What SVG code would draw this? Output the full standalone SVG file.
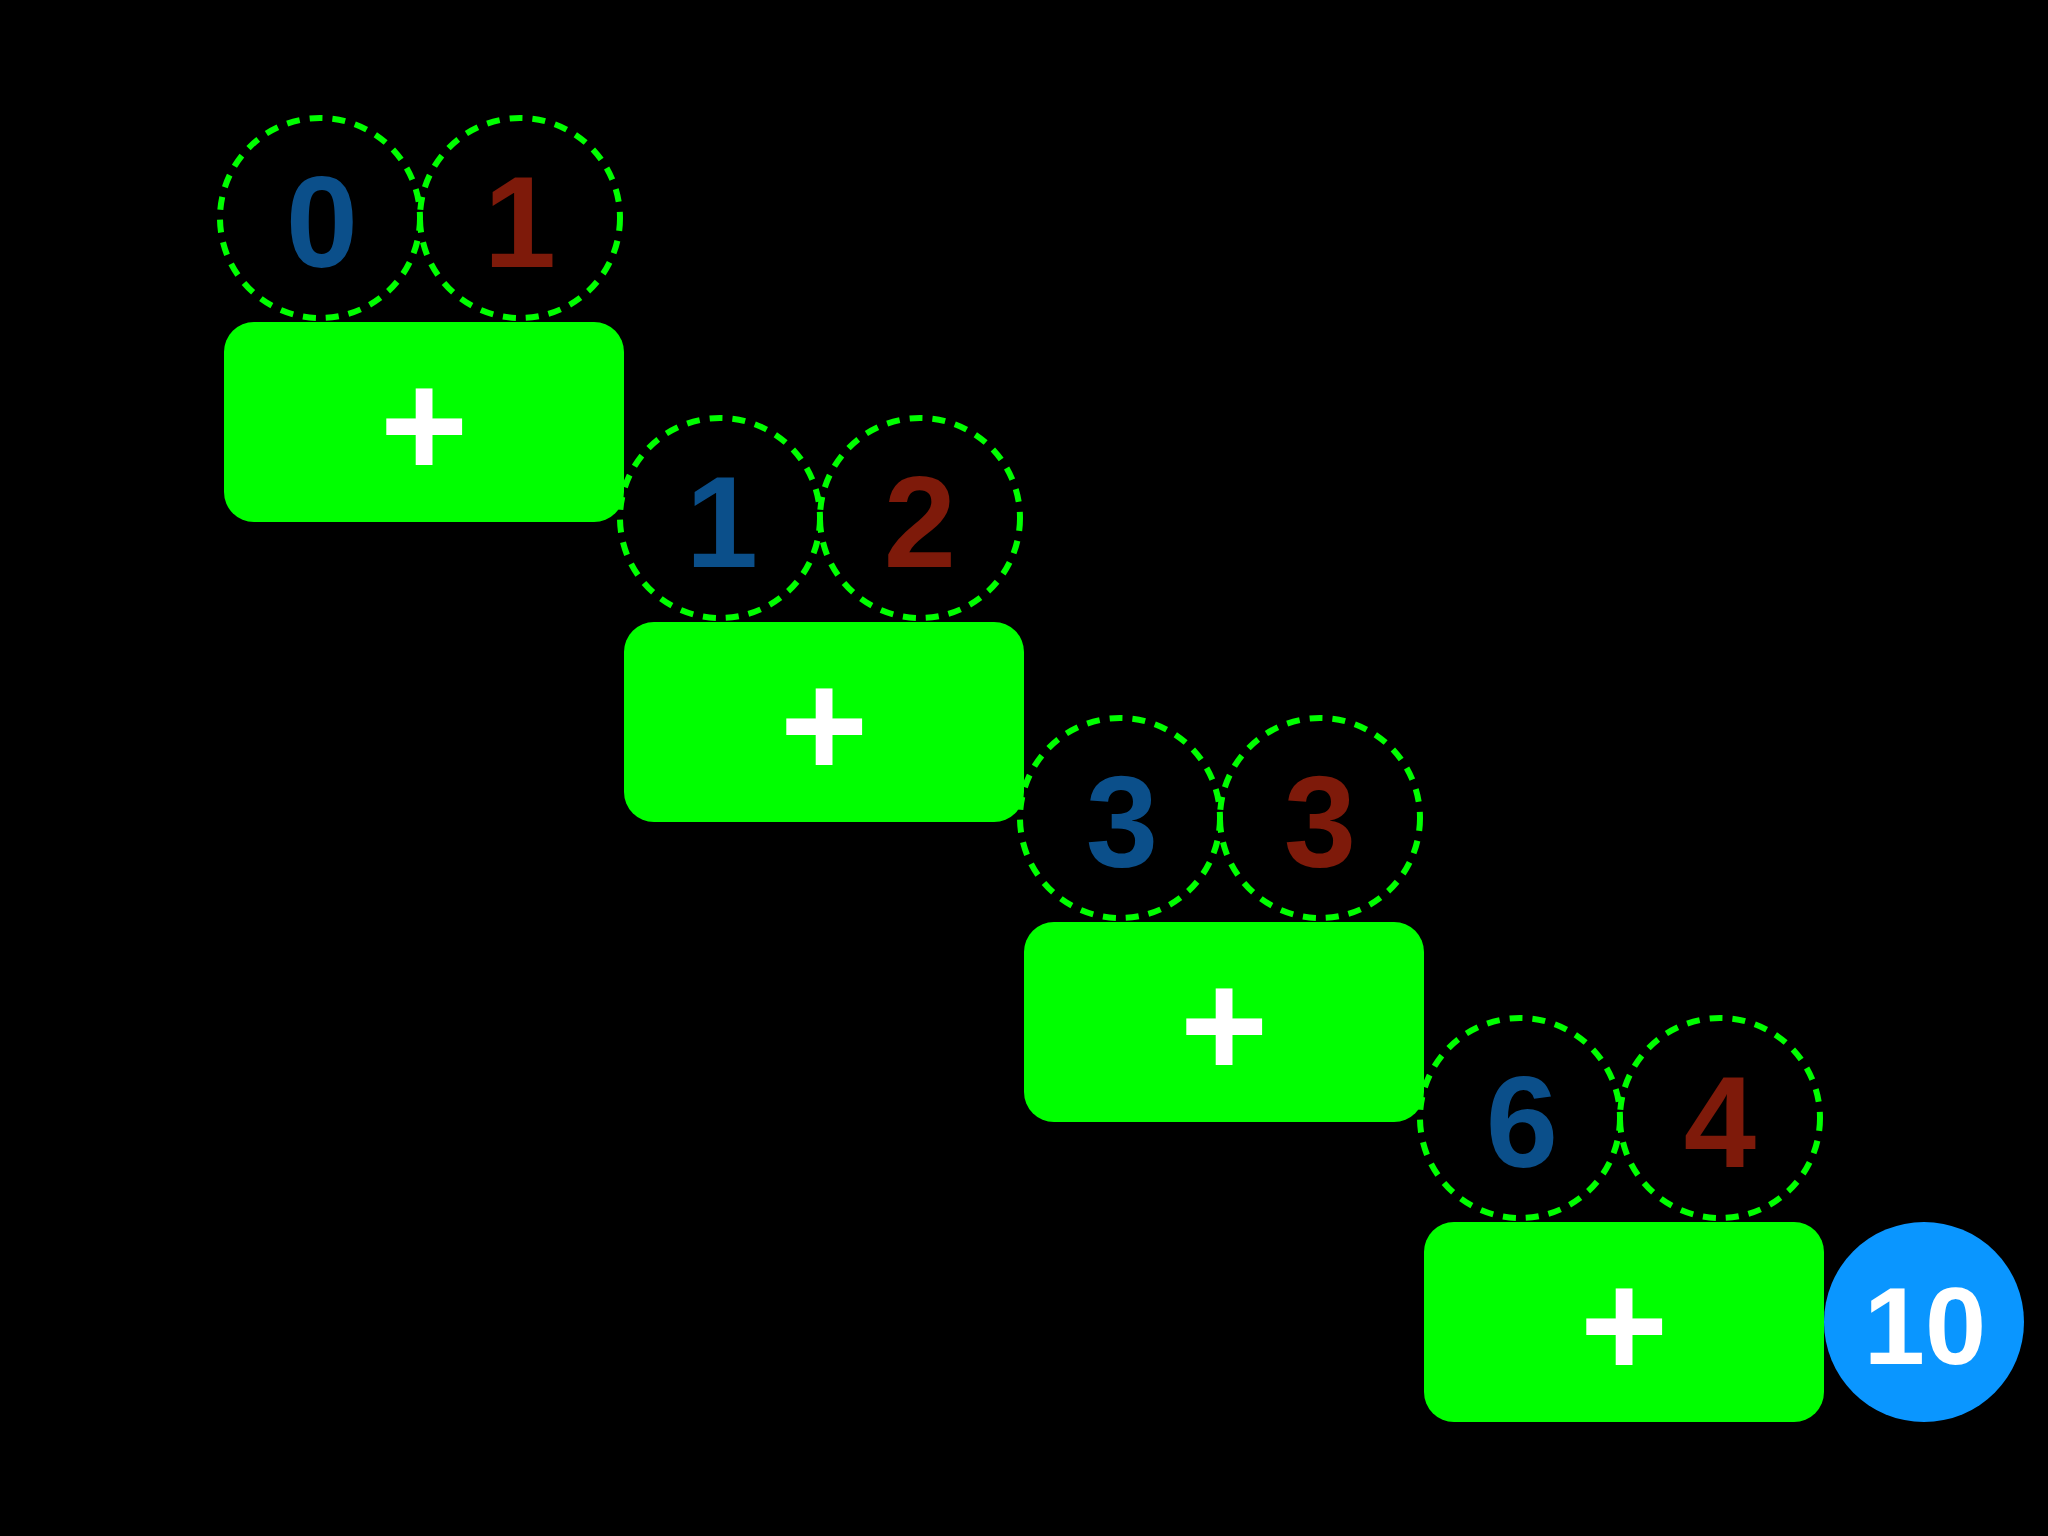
<svg xmlns="http://www.w3.org/2000/svg" width="2048" height="1536" viewBox="0 0 2048 1536">
<style>
.bg{fill:#000000}
.box{fill:#00FF00}
.slot{fill:none;stroke:#00FF00;stroke-width:6;stroke-dasharray:13 10}
.plus{font-family:"Liberation Sans",Arial,sans-serif;font-weight:bold;font-size:151px;fill:#FFFFFF;text-anchor:middle}
.dig{font-family:"Liberation Sans",Arial,sans-serif;font-weight:bold;font-size:130px;text-anchor:middle}
.a{fill:#0B4F8A}
.b{fill:#7E1A0A}
.res{fill:#0A96FF}
.restxt{font-family:"Liberation Sans",Arial,sans-serif;font-weight:bold;font-size:110px;fill:#FFFFFF;text-anchor:middle}
</style>
<rect class="bg" x="0" y="0" width="2048" height="1536"/>
<g id="connectors"></g>
<g id="step1">
<rect class="box" x="224" y="322" width="400" height="200" rx="30"/>
<text class="plus" x="424" y="477">+</text>
<circle class="slot" cx="320" cy="218" r="100"/>
<circle class="slot" cx="520" cy="218" r="100"/>
<text class="dig a" x="322" y="267">0</text>
<text class="dig b" x="520" y="267">1</text>
</g>
<g id="step2">
<rect class="box" x="624" y="622" width="400" height="200" rx="30"/>
<text class="plus" x="824" y="777">+</text>
<circle class="slot" cx="720" cy="518" r="100"/>
<circle class="slot" cx="920" cy="518" r="100"/>
<text class="dig a" x="722" y="567">1</text>
<text class="dig b" x="920" y="567">2</text>
</g>
<g id="step3">
<rect class="box" x="1024" y="922" width="400" height="200" rx="30"/>
<text class="plus" x="1224" y="1077">+</text>
<circle class="slot" cx="1120" cy="818" r="100"/>
<circle class="slot" cx="1320" cy="818" r="100"/>
<text class="dig a" x="1122" y="867">3</text>
<text class="dig b" x="1320" y="867">3</text>
</g>
<g id="step4">
<rect class="box" x="1424" y="1222" width="400" height="200" rx="30"/>
<text class="plus" x="1624" y="1377">+</text>
<circle class="slot" cx="1520" cy="1118" r="100"/>
<circle class="slot" cx="1720" cy="1118" r="100"/>
<text class="dig a" x="1522" y="1167">6</text>
<text class="dig b" x="1720" y="1167">4</text>
</g>
<g id="result">
<circle class="res" cx="1924" cy="1322" r="100"/>
<text class="restxt" x="1925" y="1364">10</text>
</g>
</svg>
